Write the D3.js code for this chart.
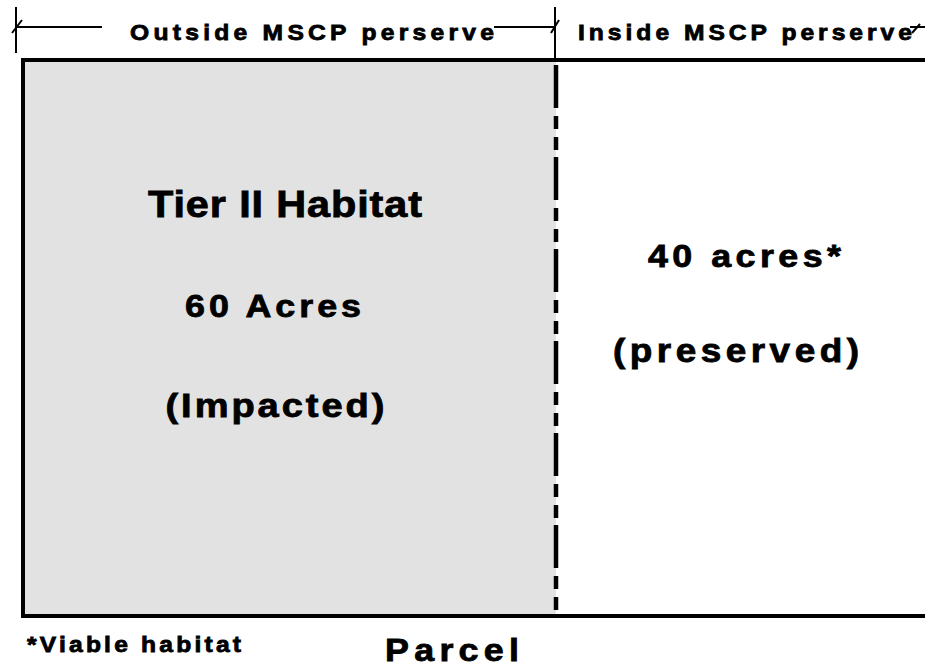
<!DOCTYPE html>
<html>
<head>
<meta charset="utf-8">
<script src="https://cdn.jsdelivr.net/npm/d3@7"></script>
<style>
  body { margin: 0; background: #fff; }
  svg text { font-family: 'Liberation Sans', Arial, sans-serif; font-weight: bold; fill: #000; stroke: #000; stroke-width: 0.8; }
</style>
</head>
<body>
<div id="chart"></div>
<script>
// parcel split, in acres
const zones = ['Outside MSCP perserve', 'Inside MSCP perserve']
const acres = [60, 40]
const zoneFill = ['#e2e2e2', '#ffffff']
const leftLines = ['Tier II Habitat', '60 Acres', '(Impacted)']
const rightLines = ['40 acres*', '(preserved)']
const footnote = '*Viable habitat'
const caption = 'Parcel'

const width = 925
const height = 667
const svg = d3.select('#chart').append('svg')
    .attr('width', width)
    .attr('height', height)

const total = d3.sum(acres)
const x = d3.scaleLinear().domain([0, total]).range([23, 23 + 533 / 0.6])
const boxTop = 60, boxBottom = 616
const cum = d3.cumsum(acres)
const splitX = x(cum[0])
const stretch = 1.12 // glyphs in the source are wider than Liberation Sans

// zone fills
svg.selectAll('rect.zone')
    .data(acres)
    .enter().append('rect')
    .attr('class', 'zone')
    .attr('x', (d, i) => x(i ? cum[i - 1] : 0))
    .attr('y', boxTop)
    .attr('width', (d, i) => x(cum[i]) - x(i ? cum[i - 1] : 0) + (i === acres.length - 1 ? 40 : 0))
    .attr('height', boxBottom - boxTop)
    .attr('fill', (d, i) => zoneFill[i])

// parcel outline (open on the right, runs off the page)
svg.append('path')
    .attr('d', `M${width + 10},${boxTop} H${x(0)} V${boxBottom} H${width + 10}`)
    .attr('fill', 'none')
    .attr('stroke', '#000')
    .attr('stroke-width', 4)

// dash-dot boundary line
svg.append('line')
    .attr('x1', splitX).attr('x2', splitX)
    .attr('y1', boxTop).attr('y2', boxBottom)
    .attr('stroke', '#000')
    .attr('stroke-width', 4.5)
    .attr('stroke-dasharray', '43,8,13,8,13,7')
    .attr('stroke-dashoffset', 87)

// dimension line along the top
const dimY = 27
const dim = svg.append('g').attr('stroke', '#000').attr('stroke-width', 2).attr('fill', 'none')
dim.append('line').attr('x1', 16).attr('x2', 16).attr('y1', 7).attr('y2', 53)
dim.append('line').attr('x1', splitX - 1).attr('x2', splitX - 1).attr('y1', 7).attr('y2', boxTop)
dim.append('line').attr('x1', 12).attr('x2', 22).attr('y1', 33).attr('y2', 20)
dim.append('line').attr('x1', splitX - 5).attr('x2', splitX + 3).attr('y1', 33).attr('y2', 20)
dim.append('line').attr('x1', 16).attr('x2', 102).attr('y1', dimY).attr('y2', dimY)
dim.append('line').attr('x1', 494).attr('x2', splitX).attr('y1', dimY).attr('y2', dimY)
dim.append('line').attr('x1', 910).attr('x2', 925).attr('y1', dimY).attr('y2', dimY)
dim.append('line').attr('x1', 912).attr('x2', 920).attr('y1', 33).attr('y2', 24)

// all labels: left edge, baseline, font size, target width
function label (text, x0, y0, size, len) {
    svg.append('g')
        .attr('transform', `translate(${x0},${y0}) scale(${stretch},1)`)
        .append('text')
        .attr('x', 0)
        .attr('y', 0)
        .attr('font-size', size)
        .attr('textLength', len / stretch)
        .attr('lengthAdjust', 'spacing')
        .text(text)
}

label(zones[0], 130, 40, 22, 364)
label(zones[1], 578, 40, 22, 334)

const leftSpec = [
    {y: 217, size: 37, cx: 285, len: 274},
    {y: 317, size: 32, cx: 273, len: 176},
    {y: 417, size: 34, cx: 275, len: 219}
]
leftLines.forEach((t, i) => {
    const s = leftSpec[i]
    label(t, s.cx - s.len / 2, s.y, s.size, s.len)
})

const rightSpec = [
    {y: 267, size: 32, x: 648, len: 193},
    {y: 362, size: 33, x: 613, len: 246}
]
rightLines.forEach((t, i) => {
    const s = rightSpec[i]
    label(t, s.x, s.y, s.size, s.len)
})

label(footnote, 27, 652, 22, 214)
label(caption, 385, 661, 32, 134)
</script>
</body>
</html>
